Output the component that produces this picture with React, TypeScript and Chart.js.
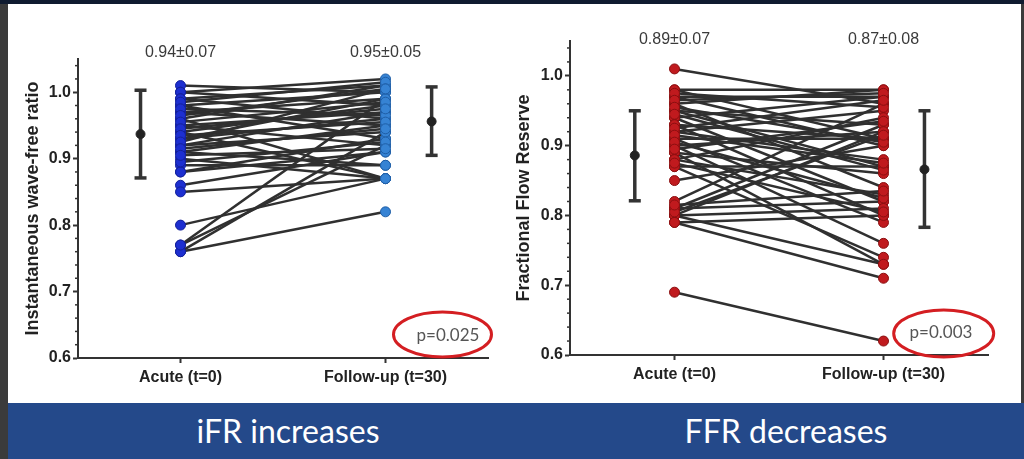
import React, { useEffect, useRef } from "react";
import { Chart, registerables } from "chart.js";
Chart.register(...registerables);

// ---------- data ----------
const categories = ["Acute (t=0)", "Follow-up (t=30)"];
const yMajorTicks = [0.6, 0.7, 0.8, 0.9, 1.0];
const yMinorTicks = [0.62, 0.64, 0.66, 0.68, 0.72, 0.74, 0.76, 0.78, 0.82, 0.84, 0.86, 0.88, 0.92, 0.94, 0.96, 0.98, 1.02, 1.04];

const iFRAcute = [1.01, 1.0, 1.0, 0.99, 0.99, 0.98, 0.98, 0.97, 0.97, 0.96, 0.96, 0.95, 0.95, 0.94, 0.94, 0.93, 0.93, 0.92, 0.92, 0.91, 0.91, 0.9, 0.89, 0.88, 0.88, 0.86, 0.85, 0.8, 0.77, 0.76, 0.76, 0.77, 0.985, 0.975, 0.965, 0.955, 0.945, 0.935, 0.925, 0.915, 0.895, 0.905];
const iFRFollow = [1.0, 1.02, 0.98, 1.01, 0.96, 1.0, 0.93, 0.99, 0.95, 1.01, 0.87, 0.97, 0.92, 0.98, 0.87, 0.96, 0.99, 0.94, 0.97, 0.89, 0.95, 0.87, 0.89, 0.91, 0.93, 0.91, 0.87, 0.87, 0.99, 0.94, 0.82, 0.92, 1.015, 0.965, 1.005, 0.985, 0.975, 0.955, 1.005, 0.945, 0.925, 0.915];
const iFRMean = [0.937, 0.956];
const iFRLow = [0.871, 0.905];
const iFRHigh = [1.003, 1.008];
const iFRSummary = ["0.94±0.07", "0.95±0.05"];
const iFRP = "p=0.025";
const iFRTitle = "Instantaneous wave-free ratio";
const iFRBanner = "iFR increases";

const FFRAcute = [1.01, 0.98, 0.98, 0.97, 0.97, 0.96, 0.96, 0.95, 0.95, 0.94, 0.94, 0.93, 0.93, 0.92, 0.92, 0.91, 0.91, 0.9, 0.9, 0.89, 0.89, 0.88, 0.88, 0.87, 0.87, 0.85, 0.82, 0.81, 0.81, 0.8, 0.8, 0.8, 0.79, 0.79, 0.69, 0.975, 0.965, 0.955, 0.945, 0.925, 0.915, 0.905, 0.895, 0.875, 0.805, 0.815];
const FFRFollow = [0.96, 0.98, 0.91, 0.97, 0.9, 0.98, 0.84, 0.93, 0.87, 0.97, 0.82, 0.91, 0.8, 0.95, 0.88, 0.91, 0.79, 0.92, 0.76, 0.86, 0.73, 0.94, 0.83, 0.87, 0.74, 0.9, 0.96, 0.93, 0.82, 0.92, 0.81, 0.73, 0.8, 0.71, 0.62, 0.955, 0.975, 0.905, 0.865, 0.965, 0.875, 0.825, 0.935, 0.805, 0.915, 0.835];
const FFRMean = [0.886, 0.866];
const FFRLow = [0.821, 0.783];
const FFRHigh = [0.95, 0.95];
const FFRSummary = ["0.89±0.07", "0.87±0.08"];
const FFRP = "p=0.003";
const FFRTitle = "Fractional Flow Reserve";
const FFRBanner = "FFR decreases";

// ---------- styling / layout ----------
const AXIS_FONT = "'Liberation Sans', Arial, Helvetica, sans-serif";
const BANNER_FONT = "Lato, 'Open Sans', sans-serif";

type PanelCfg = {
  acute: number[];
  follow: number[];
  mean: number[];
  low: number[];
  high: number[];
  summary: string[];
  pText: string;
  title: string;
  acuteFill: string;
  acuteBorder: string;
  followFill: string;
  followBorder: string;
  width: number;
  height: number;
  padTop: number;
  padRight: number;
  yAxisW: number;
  xAxisH: number;
  titlePad: number;
  errOffset: number[];
  summaryDy: number;
  ellipse: { cx: number; cy: number; rx: number; ry: number; tx: number; ty: number };
};

const leftCfg: PanelCfg = {
  acute: iFRAcute,
  follow: iFRFollow,
  mean: iFRMean,
  low: iFRLow,
  high: iFRHigh,
  summary: iFRSummary,
  pText: iFRP,
  title: iFRTitle,
  acuteFill: "#1d2fd0",
  acuteBorder: "#13209a",
  followFill: "#3683d4",
  followBorder: "#1f5ea6",
  width: 496,
  height: 399,
  padTop: 55,
  padRight: 16,
  yAxisW: 70,
  xAxisH: 45,
  titlePad: 14,
  errOffset: [0.195, 0.225],
  summaryDy: 6,
  ellipse: { cx: 434.5, cy: 330.5, rx: 49, ry: 22.5, tx: 440, ty: 332 },
};

const rightCfg: PanelCfg = {
  acute: FFRAcute,
  follow: FFRFollow,
  mean: FFRMean,
  low: FFRLow,
  high: FFRHigh,
  summary: FFRSummary,
  pText: FFRP,
  title: FFRTitle,
  acuteFill: "#c01a1e",
  acuteBorder: "#8a0f10",
  followFill: "#c01a1e",
  followBorder: "#8a0f10",
  width: 514,
  height: 399,
  padTop: 37,
  padRight: 32,
  yAxisW: 64,
  xAxisH: 48,
  titlePad: 7,
  errOffset: [0.19, 0.196],
  summaryDy: 1,
  ellipse: { cx: 437.7, cy: 329.5, rx: 50, ry: 23.5, tx: 435, ty: 329 },
};

function makeOverlay(cfg: PanelCfg) {
  return {
    id: "overlay",
    afterDraw(chart: any) {
      const ctx = chart.ctx as CanvasRenderingContext2D;
      const xs = chart.scales.x;
      const ys = chart.scales.y;
      const area = chart.chartArea;
      ctx.save();
      // minor ticks on the y axis
      ctx.strokeStyle = "#333";
      ctx.lineWidth = 1.5;
      yMinorTicks.forEach((v) => {
        const y = ys.getPixelForValue(v);
        ctx.beginPath();
        ctx.moveTo(area.left - 3, y);
        ctx.lineTo(area.left, y);
        ctx.stroke();
      });
      // summary labels
      ctx.fillStyle = "#3a3a3a";
      ctx.font = `16px ${AXIS_FONT}`;
      ctx.textAlign = "center";
      ctx.textBaseline = "middle";
      cfg.summary.forEach((s, i) => {
        ctx.fillText(s, xs.getPixelForValue(i + 1), area.top - cfg.summaryDy);
      });
      // p-value ellipse
      const e = cfg.ellipse;
      ctx.strokeStyle = "#d41e22";
      ctx.lineWidth = 3;
      ctx.beginPath();
      ctx.ellipse(e.cx, e.cy, e.rx, e.ry, 0, 0, Math.PI * 2);
      ctx.stroke();
      ctx.fillStyle = "#555";
      ctx.font = `17px ${BANNER_FONT}`;
      ctx.fillText(cfg.pText, e.tx, e.ty);
      ctx.restore();
    },
  };
}

function PairedChart({ cfg, left, top }: { cfg: PanelCfg; left: number; top: number }) {
  const ref = useRef<HTMLCanvasElement>(null);
  useEffect(() => {
    const datasets: any[] = [];
    datasets.push({
      data: cfg.acute.map((v) => ({ x: 1, y: v })),
      showLine: false,
      pointRadius: 5,
      pointBackgroundColor: cfg.acuteFill,
      pointBorderColor: cfg.acuteBorder,
      pointBorderWidth: 1,
      order: 0,
    });
    datasets.push({
      data: cfg.follow.map((v) => ({ x: 2, y: v })),
      showLine: false,
      pointRadius: 5,
      pointBackgroundColor: cfg.followFill,
      pointBorderColor: cfg.followBorder,
      pointBorderWidth: 1,
      order: 0,
    });
    cfg.mean.forEach((m, i) => {
      const x = i === 0 ? 1 - cfg.errOffset[0] : 2 + cfg.errOffset[1];
      datasets.push({
        data: [
          { x, y: cfg.low[i] },
          { x, y: cfg.high[i] },
        ],
        showLine: true,
        borderColor: "#333",
        borderWidth: 3.5,
        pointStyle: "line",
        pointRadius: 6,
        pointBorderWidth: 3.5,
        pointBorderColor: "#333",
        order: 0,
      });
      datasets.push({
        data: [{ x, y: m }],
        showLine: false,
        pointRadius: 4.5,
        pointBackgroundColor: "#222",
        pointBorderColor: "#222",
        pointBorderWidth: 1,
        order: -1,
      });
    });
    cfg.acute.forEach((a, i) => {
      datasets.push({
        data: [
          { x: 1, y: a },
          { x: 2, y: cfg.follow[i] },
        ],
        showLine: true,
        borderColor: "#303030",
        borderWidth: 2.5,
        pointRadius: 0,
        order: 1,
      });
    });

    const chart = new Chart(ref.current as HTMLCanvasElement, {
      type: "scatter",
      data: { datasets },
      plugins: [makeOverlay(cfg)],
      options: {
        animation: false,
        responsive: false,
        events: [],
        layout: { padding: { top: cfg.padTop, right: cfg.padRight, bottom: 0, left: 0 } },
        plugins: { legend: { display: false }, tooltip: { enabled: false } },
        scales: {
          x: {
            type: "linear",
            min: 0.5,
            max: 2.5,
            afterBuildTicks: (s: any) => {
              s.ticks = [{ value: 1 }, { value: 2 }];
            },
            afterFit: (s: any) => {
              s.height = cfg.xAxisH;
            },
            ticks: {
              callback: (v: any) => categories[Number(v) - 1] ?? "",
              font: { family: AXIS_FONT, size: 16, weight: "bold" },
              color: "#222",
              maxRotation: 0,
              autoSkip: false,
              padding: 5,
            },
            grid: { display: true, drawOnChartArea: false, drawTicks: true, tickLength: 5, tickWidth: 2, tickColor: "#333" },
            border: { display: true, width: 2, color: "#333" },
          },
          y: {
            type: "linear",
            min: 0.6,
            max: 1.05,
            afterBuildTicks: (s: any) => {
              s.ticks = yMajorTicks.map((v) => ({ value: v }));
            },
            afterFit: (s: any) => {
              s.width = cfg.yAxisW;
            },
            ticks: {
              callback: (v: any) => Number(v).toFixed(1),
              font: { family: AXIS_FONT, size: 16, weight: "bold" },
              color: "#222",
              padding: 2,
            },
            title: {
              display: true,
              text: cfg.title,
              font: { family: AXIS_FONT, size: 18, weight: "bold" },
              color: "#222",
              padding: { top: cfg.titlePad, bottom: 0 },
            },
            grid: { display: true, drawOnChartArea: false, drawTicks: true, tickLength: 5, tickWidth: 2, tickColor: "#333" },
            border: { display: true, width: 2, color: "#333" },
          },
        },
      } as any,
    });
    return () => chart.destroy();
  }, [cfg]);
  return (
    <canvas
      ref={ref}
      width={cfg.width}
      height={cfg.height}
      style={{ position: "absolute", left, top, width: cfg.width, height: cfg.height }}
    />
  );
}

export default function App() {
  useEffect(() => {
    document.body.style.margin = "0";
  }, []);
  const bannerText: React.CSSProperties = {
    position: "absolute",
    top: 0,
    height: 56,
    lineHeight: "56px",
    textAlign: "center",
    color: "#fff",
    fontFamily: BANNER_FONT,
    fontSize: 32,
    whiteSpace: "nowrap",
  };
  return (
    <div style={{ position: "fixed", left: 0, top: 0, width: 1024, height: 459, background: "#3b3b3b", overflow: "hidden" }}>
      <div style={{ position: "absolute", left: 0, top: 0, width: 1024, height: 4, background: "#0f1b30" }} />
      <div style={{ position: "absolute", left: 8, top: 4, width: 1013, height: 400, background: "#fff" }} />
      <PairedChart cfg={leftCfg} left={8} top={4} />
      <PairedChart cfg={rightCfg} left={506} top={4} />
      <div style={{ position: "absolute", left: 8, top: 403, width: 1016, height: 56, background: "#24498a" }}>
        <div style={{ ...bannerText, left: 80, width: 400 }}>{iFRBanner}</div>
        <div style={{ ...bannerText, left: 578, width: 400 }}>{FFRBanner}</div>
      </div>
    </div>
  );
}
